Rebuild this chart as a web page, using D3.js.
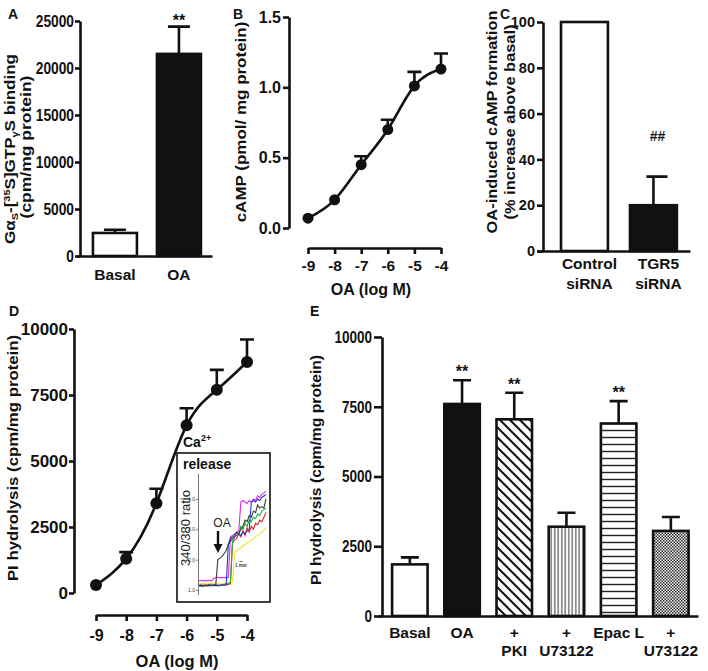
<!DOCTYPE html>
<html><head><meta charset="utf-8">
<script src="https://cdn.jsdelivr.net/npm/d3@7"></script>
<style>body{margin:0;background:#fff}svg{display:block}</style>
</head><body><svg id="c" width="708" height="671"></svg>
<script>
// ---------------- DATA ----------------
// Panel A
const aCats = ["Basal", "OA"];
const aMeans = [2450, 21500];
const aErrs = [350, 2900];
const aSig = ["", "**"];
const aTicks = [0, 5000, 10000, 15000, 20000, 25000];
// Panel B
const bLogM = [-9, -8, -7, -6, -5, -4];
const bMeans = [0.07, 0.20, 0.45, 0.70, 1.01, 1.13];
const bErrs = [0, 0, 0.06, 0.07, 0.10, 0.11];
const bYTicks = [0, 0.5, 1.0, 1.5];
// Panel C
const cCats = ["Control siRNA", "TGR5 siRNA"];
const cLabels = [["Control", "siRNA"], ["TGR5", "siRNA"]];
const cMeans = [100, 20];
const cErrs = [0, 12.5];
const cSig = ["", "##"];
const cTicks = [0, 20, 40, 60, 80, 100];
// Panel D
const dLogM = [-9, -8, -7, -6, -5, -4];
const dMeans = [300, 1300, 3400, 6350, 7700, 8750];
const dErrs = [0, 250, 550, 650, 750, 850];
const dTicks = [0, 2500, 5000, 7500, 10000];
// Panel D inset: Ca2+ traces (340/380 ratio), one value per time sample
const caBlack = [1.15,1.17,1.14,1.16,1.15,1.18,1.15,1.17,1.16,2.0,2.05,2.1,2.2,2.3,2.5,2.7,2.75,2.8,2.9,2.85,3.0,3.1,3.3,3.25,3.45,3.4,3.6,3.55,3.8,3.7,3.75,3.7,4.0];
const caMagenta = [1.3,1.32,1.3,1.31,1.3,1.32,1.3,1.38,1.4,1.42,1.4,1.41,1.4,1.42,1.4,2.75,2.8,2.85,2.9,2.95,3.9,3.95,3.9,3.85,3.95,3.9,4.0,3.95,4.1,4.05,4.15,4.2,4.25];
const caBlue = [1.15,1.13,1.16,1.14,1.15,1.17,1.14,1.15,1.16,1.14,1.15,1.17,1.16,1.18,2.5,2.6,2.7,2.75,2.8,2.85,2.8,2.9,2.85,2.95,3.0,3.9,3.95,3.9,4.0,3.95,4.05,4.1,4.15];
const caGreen = [1.15,1.12,1.14,1.16,1.13,1.15,1.14,1.16,1.15,1.17,1.14,1.16,1.18,1.2,1.22,1.25,2.6,2.75,2.9,2.85,3.1,3.0,3.2,3.1,3.3,3.25,3.4,3.35,3.5,3.45,3.6,3.65,3.7];
const caRed = [1.13,1.15,1.12,1.14,1.15,1.13,1.16,1.14,1.15,1.13,1.16,1.15,1.17,1.16,1.18,1.2,2.55,2.65,2.7,2.85,2.75,2.95,2.8,3.05,2.9,3.1,3.0,3.2,3.15,3.3,3.25,3.4,3.55];
const caYellow = [1.2,1.22,1.2,1.21,1.19,1.2,1.22,1.2,1.21,1.2,1.19,1.2,1.22,1.21,1.2,1.22,1.25,2.25,2.3,2.35,2.4,2.45,2.5,2.55,2.6,2.65,2.7,2.75,2.8,2.85,2.9,2.98,3.05];
const caTicks = [1, 2, 3, 4];
// Panel E
const eCats = ["Basal", "OA", "PKI", "U73122", "Epac L", "Epac U73122"];
const eLabels = [["Basal", ""], ["OA", ""], ["+", "PKI"], ["+", "U73122"], ["Epac L", ""], ["+", "U73122"]];
const eMeans = [1850, 7600, 7050, 3200, 6900, 3050];
const eErrs = [250, 850, 950, 500, 800, 500];
const eSig = ["", "**", "**", "", "**", ""];
const eTicks = [0, 2500, 5000, 7500, 10000];

// ---------------- DRAWING ----------------
const FONT = "'Liberation Sans', Arial, Helvetica, sans-serif";
const INK = "#111";
const svg = d3.select("#c").attr("font-family", FONT).attr("font-weight", "bold");
svg.append("rect").attr("width", 708).attr("height", 671).attr("fill", "#fff");

// patterns
const defs = svg.append("defs");
const pDiag = defs.append("pattern").attr("id", "pDiag").attr("patternUnits", "userSpaceOnUse").attr("width", 10).attr("height", 10);
pDiag.append("rect").attr("width", 10).attr("height", 10).attr("fill", "#fff");
pDiag.append("path").attr("d", "M-5,5L5,15M0,0L10,10M5,-5L15,5").attr("stroke", INK).attr("stroke-width", 2);
const pVert = defs.append("pattern").attr("id", "pVert").attr("patternUnits", "userSpaceOnUse").attr("width", 3.5).attr("height", 10);
pVert.append("rect").attr("width", 3.5).attr("height", 10).attr("fill", "#fff");
pVert.append("path").attr("d", "M1.75,0V10").attr("stroke", "#333").attr("stroke-width", 1);
const pHor = defs.append("pattern").attr("id", "pHor").attr("patternUnits", "userSpaceOnUse").attr("width", 10).attr("height", 7);
pHor.append("rect").attr("width", 10).attr("height", 7).attr("fill", "#fff");
pHor.append("path").attr("d", "M0,3.5H10").attr("stroke", "#222").attr("stroke-width", 1.4);
const pChk = defs.append("pattern").attr("id", "pChk").attr("patternUnits", "userSpaceOnUse").attr("width", 3).attr("height", 3);
pChk.append("rect").attr("width", 3).attr("height", 3).attr("fill", "#fff");
pChk.append("rect").attr("width", 1.5).attr("height", 1.5).attr("fill", "#222");
pChk.append("rect").attr("x", 1.5).attr("y", 1.5).attr("width", 1.5).attr("height", 1.5).attr("fill", "#222");

function styleAxis(g, fs) {
  g.attr("font-family", null).attr("font-size", null);
  g.select(".domain").attr("stroke", INK).attr("stroke-width", 2.6);
  g.selectAll(".tick line").attr("stroke", INK).attr("stroke-width", 2.6);
  g.selectAll(".tick text").attr("fill", INK).attr("font-size", fs)
    .attr("font-family", FONT).attr("font-weight", "bold");
}
function compressY(g, sx, off) {
  g.selectAll(".tick text").attr("x", -off / sx).attr("transform", `scale(${sx},1)`);
}
function twoLineLabels(g, labels, fs, dx, lineDy) {
  g.selectAll(".tick text").each(function (d, i) {
    const t = d3.select(this).text(null).attr("font-size", fs);
    t.append("tspan").attr("x", dx).text(labels[i][0]);
    if (labels[i][1]) t.append("tspan").attr("x", dx).attr("dy", lineDy).text(labels[i][1]);
  });
}
function panelLabel(txt, x, y) {
  svg.append("text").attr("x", x).attr("y", y).attr("font-size", 14).attr("fill", INK).text(txt);
}
function rotLabel(x, y, fs, txt, sy) {
  return svg.append("text").attr("transform", `translate(${x},${y}) rotate(-90) scale(1,${sy || 1})`)
    .attr("text-anchor", "middle").attr("font-size", fs).attr("fill", INK).text(txt);
}

// ===== Panel A =====
{
  const y = d3.scaleLinear().domain([0, 25000]).range([256, 21]);
  const x = d3.scaleBand().domain(aCats).range([77, 212]).paddingInner(0.3125).paddingOuter(0.211).align(0.59);
  const g = svg.append("g");
  g.selectAll("rect.bar").data(aCats).join("rect")
    .attr("x", d => x(d)).attr("width", x.bandwidth())
    .attr("y", (d, i) => y(aMeans[i])).attr("height", (d, i) => y(0) - y(aMeans[i]))
    .attr("fill", (d, i) => i === 0 ? "#fff" : INK).attr("stroke", INK).attr("stroke-width", 2.6);
  aCats.forEach((d, i) => {
    const cx = x(d) + x.bandwidth() / 2;
    g.append("path").attr("d", `M${cx},${y(aMeans[i])}V${y(aMeans[i] + aErrs[i])}M${cx - 11},${y(aMeans[i] + aErrs[i])}H${cx + 11}`)
      .attr("stroke", INK).attr("stroke-width", 2.6).attr("fill", "none");
    if (aSig[i]) g.append("text").attr("x", cx).attr("y", y(aMeans[i] + aErrs[i]) - 1).attr("text-anchor", "middle")
      .attr("font-size", 16).attr("fill", INK).text(aSig[i]);
  });
  const ya = g.append("g").attr("transform", "translate(80,0)")
    .call(d3.axisLeft(y).tickValues(aTicks).tickFormat(d3.format("d")).tickSize(5).tickPadding(1).tickSizeOuter(0));
  styleAxis(ya, 16); compressY(ya, 0.86, 6);
  const xa = g.append("g").attr("transform", "translate(0,256)")
    .call(d3.axisBottom(x).tickSize(0).tickPadding(13).tickSizeOuter(0));
  styleAxis(xa, 15.5);
  const l1 = svg.append("text").attr("transform", "translate(15,149) rotate(-90) scale(1,0.84)").attr("text-anchor", "middle").attr("font-size", 17).attr("fill", INK);
  l1.append("tspan").text("Gα");
  l1.append("tspan").attr("font-size", 11).attr("dy", 4).text("S");
  l1.append("tspan").attr("dy", -4).text("-[");
  l1.append("tspan").attr("font-size", 11).attr("dy", -6).text("35");
  l1.append("tspan").attr("dy", 6).text("S]GTP");
  l1.append("tspan").attr("font-size", 11).attr("dy", 4).text("γ");
  l1.append("tspan").attr("dy", -4).text("S binding");
  rotLabel(31, 147, 17.5, "(cpm/mg protein)", 0.84);
  panelLabel("A", 8, 19);
}

// ===== Panel B =====
{
  const x = d3.scaleLinear().domain([-9, -4]).range([308, 441]);
  const y = d3.scaleLinear().domain([0, 1.5]).range([228, 17]);
  const g = svg.append("g");
  bLogM.forEach((d, i) => {
    if (bErrs[i] > 0) {
      const cx = x(d), y0 = y(bMeans[i]), y1 = y(bMeans[i] + bErrs[i]);
      g.append("path").attr("d", `M${cx},${y0}V${y1}M${cx - 7},${y1}H${cx + 7}`).attr("stroke", INK).attr("stroke-width", 2.6).attr("fill", "none");
    }
  });
  const line = d3.line().x((d, i) => x(bLogM[i])).y(d => y(d)).curve(d3.curveNatural);
  g.append("path").attr("d", line(bMeans)).attr("fill", "none").attr("stroke", INK).attr("stroke-width", 2.6);
  g.selectAll("circle").data(bMeans).join("circle").attr("cx", (d, i) => x(bLogM[i])).attr("cy", d => y(d)).attr("r", 5.5).attr("fill", INK);
  const ya = g.append("g").attr("transform", "translate(289,0)")
    .call(d3.axisLeft(y).tickValues(bYTicks).tickFormat(d3.format(".1f")).tickSize(6).tickPadding(2).tickSizeOuter(0));
  styleAxis(ya, 16);
  const xa = g.append("g").attr("transform", "translate(0,248)")
    .call(d3.axisBottom(x).tickValues(bLogM).tickFormat(d => String(d)).tickSize(6).tickPadding(6).tickSizeOuter(0));
  styleAxis(xa, 15.5);
  svg.append("text").attr("x", 371).attr("y", 295).attr("text-anchor", "middle").attr("font-size", 16).attr("fill", INK).text("OA (log M)");
  rotLabel(246, 122, 17, "cAMP (pmol/ mg protein)", 0.9);
  panelLabel("B", 233, 19);
}

// ===== Panel C =====
{
  const y = d3.scaleLinear().domain([0, 100]).range([251, 22]);
  const x = d3.scaleBand().domain(cCats).range([537, 690]).paddingInner(0.32).paddingOuter(0.269).align(0.647);
  const g = svg.append("g");
  g.selectAll("rect.bar").data(cCats).join("rect")
    .attr("x", d => x(d)).attr("width", x.bandwidth())
    .attr("y", (d, i) => y(cMeans[i])).attr("height", (d, i) => y(0) - y(cMeans[i]))
    .attr("fill", (d, i) => i === 0 ? "#fff" : INK).attr("stroke", INK).attr("stroke-width", 2.6);
  cCats.forEach((d, i) => {
    const cx = x(d) + x.bandwidth() / 2;
    if (cErrs[i] > 0) {
      const y1 = y(cMeans[i] + cErrs[i]);
      g.append("path").attr("d", `M${cx},${y(cMeans[i])}V${y1}M${cx - 7},${y1}H${cx + 14}`).attr("stroke", INK).attr("stroke-width", 2.6).attr("fill", "none");
    }
    if (cSig[i]) g.append("text").attr("x", cx + 4).attr("y", y(cMeans[i] + cErrs[i]) - 36).attr("text-anchor", "middle")
      .attr("font-size", 14).attr("fill", INK).text(cSig[i]);
  });
  const ya = g.append("g").attr("transform", "translate(543,0)")
    .call(d3.axisLeft(y).tickValues(cTicks).tickSize(6).tickPadding(2).tickSizeOuter(0));
  styleAxis(ya, 14.5);
  const xa = g.append("g").attr("transform", "translate(0,251)")
    .call(d3.axisBottom(x).tickSize(0).tickPadding(7).tickSizeOuter(0));
  styleAxis(xa, 15.5);
  twoLineLabels(xa, cLabels, 15.5, 5, "1.27em");
  rotLabel(497, 122, 16.4, "OA-induced cAMP formation", 0.9);
  rotLabel(515, 122, 16.4, "(% increase above basal)", 0.9);
  panelLabel("C", 500, 19);
}

// ===== Panel D =====
{
  const x = d3.scaleLinear().domain([-9, -4]).range([96, 247]);
  const y = d3.scaleLinear().domain([0, 10000]).range([593, 329]);
  const g = svg.append("g");
  dLogM.forEach((d, i) => {
    if (dErrs[i] > 0) {
      const cx = x(d), y0 = y(dMeans[i]), y1 = y(dMeans[i] + dErrs[i]);
      g.append("path").attr("d", `M${cx},${y0}V${y1}M${cx - 7},${y1}H${cx + 7}`).attr("stroke", INK).attr("stroke-width", 2.6).attr("fill", "none");
    }
  });
  const line = d3.line().x((d, i) => x(dLogM[i])).y(d => y(d)).curve(d3.curveNatural);
  g.append("path").attr("d", line(dMeans)).attr("fill", "none").attr("stroke", INK).attr("stroke-width", 2.6);
  g.selectAll("circle").data(dMeans).join("circle").attr("cx", (d, i) => x(dLogM[i])).attr("cy", d => y(d)).attr("r", 6).attr("fill", INK);
  const ya = g.append("g").attr("transform", "translate(74,0)")
    .call(d3.axisLeft(y).tickValues(dTicks).tickFormat(d3.format("d")).tickSize(5).tickPadding(1).tickSizeOuter(0));
  styleAxis(ya, 17);
  const xa = g.append("g").attr("transform", "translate(0,615)")
    .call(d3.axisBottom(x).tickValues(dLogM).tickFormat(d => String(d)).tickSize(6).tickPadding(9).tickSizeOuter(0));
  styleAxis(xa, 16);
  svg.append("text").attr("x", 177).attr("y", 667).attr("text-anchor", "middle").attr("font-size", 16.5).attr("fill", INK).text("OA (log M)");
  rotLabel(18, 458, 16.8, "PI  hydrolysis (cpm/mg protein)", 0.92);
  panelLabel("D", 9, 316);

  // ---- inset ----
  const ins = svg.append("g");
  ins.append("rect").attr("x", 177).attr("y", 453).attr("width", 93).attr("height", 149).attr("fill", "#fff").attr("stroke", INK).attr("stroke-width", 1.6);
  const xi = d3.scaleLinear().domain([0, 32]).range([199, 266]);
  const yi = d3.scaleLinear().domain([0.85, 4.85]).range([594.5, 473.2]);
  const traces = [
    [caYellow, "#f2e22a"], [caRed, "#e5231f"], [caGreen, "#22b33a"],
    [caMagenta, "#e02ae6"], [caBlue, "#2436d6"], [caBlack, "#3a3a3a"]
  ];
  const tl = d3.line().x((d, i) => xi(i)).y(d => yi(d));
  traces.forEach(([arr, col]) => {
    ins.append("path").attr("d", tl(arr)).attr("fill", "none").attr("stroke", col).attr("stroke-width", 1.1);
  });
  const yia = ins.append("g").attr("transform", "translate(198,0)")
    .call(d3.axisLeft(yi).tickValues(caTicks).tickSize(2).tickPadding(1).tickSizeOuter(0));
  yia.attr("font-family", null).attr("font-size", null);
  yia.select(".domain").attr("stroke", "#555").attr("stroke-width", 0.8);
  yia.selectAll(".tick line").attr("stroke", "#555").attr("stroke-width", 0.8);
  yia.selectAll(".tick text").attr("font-size", 5).attr("font-weight", "normal").attr("fill", "#333").attr("font-family", FONT);
  const ca = svg.append("text").attr("x", 183).attr("y", 447).attr("font-size", 14).attr("fill", INK);
  ca.append("tspan").text("Ca");
  ca.append("tspan").attr("font-size", 9).attr("dy", -6).text("2+");
  svg.append("text").attr("x", 183).attr("y", 469).attr("font-size", 14).attr("fill", INK).text("release");
  svg.append("text").attr("transform", "translate(190,528) rotate(-90)").attr("text-anchor", "middle")
    .attr("font-size", 13).attr("font-weight", "normal").attr("fill", "#222").text("340/380 ratio");
  svg.append("text").attr("x", 222).attr("y", 527).attr("text-anchor", "middle").attr("font-size", 12).attr("font-weight", "normal").attr("fill", "#222").text("OA");
  svg.append("path").attr("d", "M218,531V546").attr("stroke", INK).attr("stroke-width", 2.4);
  svg.append("path").attr("d", "M213.5,544L222.5,544L218,553Z").attr("fill", INK);
  svg.append("path").attr("d", "M239.5,561.5H242.5").attr("stroke", "#333").attr("stroke-width", 0.8);
  svg.append("text").attr("x", 241).attr("y", 567).attr("text-anchor", "middle").attr("font-size", 4.5).attr("fill", "#333").text("1 min");
}

// ===== Panel E =====
{
  const y = d3.scaleLinear().domain([0, 10000]).range([616, 337]);
  const x = d3.scaleBand().domain(eCats).range([378, 698]).paddingInner(0.32).paddingOuter(0.225).align(0.6);
  const fills = ["#fff", INK, "url(#pDiag)", "url(#pVert)", "url(#pHor)", "url(#pChk)"];
  const g = svg.append("g");
  g.selectAll("rect.bar").data(eCats).join("rect")
    .attr("x", d => x(d)).attr("width", x.bandwidth())
    .attr("y", (d, i) => y(eMeans[i])).attr("height", (d, i) => y(0) - y(eMeans[i]))
    .attr("fill", (d, i) => fills[i]).attr("stroke", INK).attr("stroke-width", 2.6);
  eCats.forEach((d, i) => {
    const cx = x(d) + x.bandwidth() / 2;
    const y1 = y(eMeans[i] + eErrs[i]);
    g.append("path").attr("d", `M${cx},${y(eMeans[i])}V${y1}M${cx - 9},${y1}H${cx + 9}`).attr("stroke", INK).attr("stroke-width", 2.6).attr("fill", "none");
    if (eSig[i]) g.append("text").attr("x", cx).attr("y", y1 - 3).attr("text-anchor", "middle")
      .attr("font-size", 16).attr("fill", INK).text(eSig[i]);
  });
  const ya = g.append("g").attr("transform", "translate(382,0)")
    .call(d3.axisLeft(y).tickValues(eTicks).tickFormat(d3.format("d")).tickSize(8).tickPadding(2).tickSizeOuter(0));
  styleAxis(ya, 16.5); compressY(ya, 0.82, 10);
  const xa = g.append("g").attr("transform", "translate(0,616)")
    .call(d3.axisBottom(x).tickSize(0).tickPadding(11).tickSizeOuter(0));
  styleAxis(xa, 15.5);
  twoLineLabels(xa, eLabels, 15.5, 0, "1.17em");
  rotLabel(321, 470, 15.7, "PI hydrolysis (cpm/mg protein)", 0.92);
  panelLabel("E", 310, 316);
}
</script></body></html>
